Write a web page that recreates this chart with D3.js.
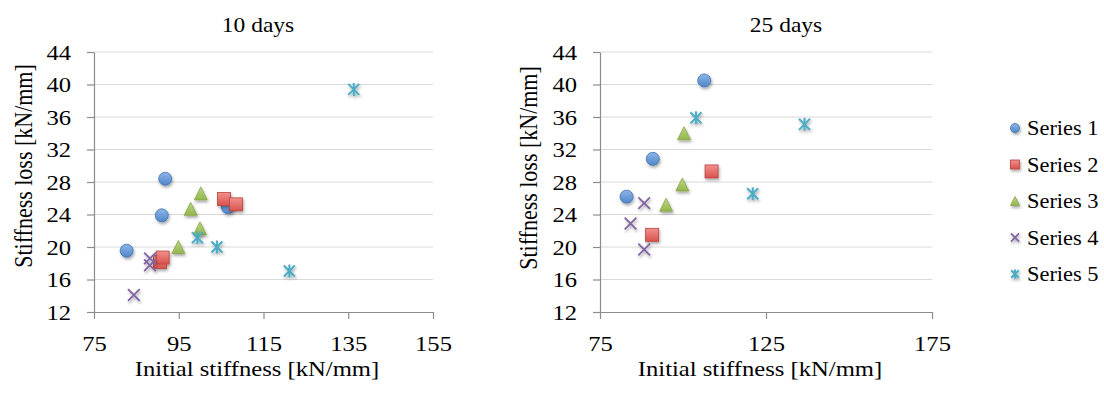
<!DOCTYPE html>
<html>
<head>
<meta charset="utf-8">
<script src="https://cdn.jsdelivr.net/npm/d3@7"></script>
<style>
  html, body { margin: 0; padding: 0; background: #fff; }
  svg { display: block; }
  text { font-family: "Liberation Serif", "Times New Roman", serif; fill: #000; }
</style>
</head>
<body>
<svg id="chart" width="1104" height="398"></svg>
<script>
// ---------- DATA ----------
const seriesNames = ["Series 1", "Series 2", "Series 3", "Series 4", "Series 5"];
const panelTitles = ["10 days", "25 days"];
const xAxisTitle = "Initial stiffness [kN/mm]";
const yAxisTitles = ["Stiffness loss [kN/mm]", "Stiffness loss  [kN/mm]"];
const yTicks = [12, 16, 20, 24, 28, 32, 36, 40, 44];
const xTicks10 = [75, 95, 115, 135, 155];
const xTicks25 = [75, 125, 175];

// 10 days: [initial stiffness, stiffness loss]
const s1_10 = [[91.8, 28.4], [91.0, 23.9], [82.7, 19.55], [106.6, 24.9]];
const s2_10 = [[105.7, 25.9], [108.5, 25.25], [90.6, 18.15], [91.2, 18.7]];
const s3_10 = [[100.2, 26.6], [97.8, 24.7], [100.0, 22.3], [94.9, 20.0]];
const s4_10 = [[88.2, 18.6], [88.2, 17.75], [84.4, 14.1]];
const s5_10 = [[136.3, 39.4], [99.4, 21.15], [104.0, 20.0], [121.1, 17.05]];

// 25 days
const s1_25 = [[106.4, 40.5], [90.9, 30.85], [83.0, 26.2]];
const s2_25 = [[108.6, 29.3], [90.7, 21.5]];
const s3_25 = [[100.3, 34.0], [99.8, 27.7], [94.9, 25.2]];
const s4_25 = [[88.3, 25.4], [84.2, 22.9], [88.3, 19.7]];
const s5_25 = [[103.9, 35.9], [136.6, 35.1], [121.0, 26.55]];

// ---------- STYLE ----------
const FONT = 22;
const SX = 1.12; // horizontal stretch of the original text
const svg = d3.select("#chart");
const defs = svg.append("defs");

const flt = defs.append("filter").attr("id", "shadow")
  .attr("x", "-50%").attr("y", "-50%").attr("width", "200%").attr("height", "200%");
flt.append("feDropShadow").attr("dx", 1).attr("dy", 2).attr("stdDeviation", 1.4)
  .attr("flood-color", "#000").attr("flood-opacity", 0.35);

function grad(id, c1, c2) {
  const g = defs.append("linearGradient").attr("id", id)
    .attr("x1", 0).attr("y1", 0).attr("x2", 0).attr("y2", 1);
  g.append("stop").attr("offset", "0%").attr("stop-color", c1);
  g.append("stop").attr("offset", "100%").attr("stop-color", c2);
}
grad("g1", "#8db6e8", "#4f86c9");
grad("g2", "#f2918d", "#d9524d");
grad("g3", "#bcd880", "#93b64f");

const markerStyles = [
  { type: "circle", fill: "url(#g1)", stroke: "#3f72b0" },
  { type: "square", fill: "url(#g2)", stroke: "#b8423e" },
  { type: "triangle", fill: "url(#g3)", stroke: "#86a545" },
  { type: "x", stroke: "#8064A2" },
  { type: "star", stroke: "#4BACC6" }
];

function drawMarker(g, type, st, s) {
  if (type === "circle") {
    g.append("circle").attr("r", s).attr("fill", st.fill).attr("stroke", st.stroke).attr("stroke-width", 0.8);
  } else if (type === "square") {
    g.append("rect").attr("x", -s).attr("y", -s).attr("width", 2 * s).attr("height", 2 * s)
      .attr("fill", st.fill).attr("stroke", st.stroke).attr("stroke-width", 0.8);
  } else if (type === "triangle") {
    g.append("path").attr("d", `M0,${-s}L${s},${s}L${-s},${s}Z`)
      .attr("fill", st.fill).attr("stroke", st.stroke).attr("stroke-width", 0.8);
  } else if (type === "x") {
    const k = s * 0.9;
    g.append("path").attr("d", `M${-k},${-k}L${k},${k}M${-k},${k}L${k},${-k}`)
      .attr("stroke", st.stroke).attr("stroke-width", 1.8).attr("fill", "none");
  } else if (type === "star") {
    const k = s * 0.85;
    g.append("path").attr("d", `M${-k},${-k}L${k},${k}M${-k},${k}L${k},${-k}M0,${-s}L0,${s}`)
      .attr("stroke", st.stroke).attr("stroke-width", 2).attr("fill", "none");
  }
}

function stretchedText(parent, x, y, str, size, anchor) {
  return parent.append("text")
    .attr("transform", `translate(${x},${y}) scale(${SX},1)`)
    .attr("text-anchor", anchor || "start").attr("font-size", size).text(str);
}

const panels = [
  { title: panelTitles[0], titleX: 258, titleY: 32, left: 94, right: 433, top: 52, bottom: 312,
    xDomain: [75, 155], xTicks: xTicks10, yTitle: yAxisTitles[0], yTitleX: 32, yTitleY: 166, xTitleX: 257,
    series: [s1_10, s2_10, s3_10, s4_10, s5_10] },
  { title: panelTitles[1], titleX: 786, titleY: 32, left: 600, right: 932, top: 52, bottom: 312,
    xDomain: [75, 175], xTicks: xTicks25, yTitle: yAxisTitles[1], yTitleX: 537, yTitleY: 168, xTitleX: 760,
    series: [s1_25, s2_25, s3_25, s4_25, s5_25] }
];

panels.forEach(p => {
  const x = d3.scaleLinear().domain(p.xDomain).range([p.left, p.right]);
  const y = d3.scaleLinear().domain([12, 44]).range([p.bottom, p.top]);

  svg.append("g").selectAll("line").data(yTicks.filter(v => v !== 12)).join("line")
    .attr("x1", p.left).attr("x2", p.right)
    .attr("y1", d => y(d)).attr("y2", d => y(d))
    .attr("stroke", "#d9d9d9").attr("stroke-width", 1.2);

  const ya = svg.append("g").attr("transform", `translate(${p.left},0)`)
    .call(d3.axisLeft(y).tickValues(yTicks).tickSize(7).tickSizeOuter(0).tickPadding(16));
  const xa = svg.append("g").attr("transform", `translate(0,${p.bottom})`)
    .call(d3.axisBottom(x).tickValues(p.xTicks).tickSize(7).tickSizeOuter(0).tickPadding(16));
  [ya, xa].forEach(a => {
    a.attr("font-family", null);
    a.select(".domain").attr("stroke", "#8c8c8c").attr("stroke-width", 1.2);
    a.selectAll(".tick line").attr("stroke", "#8c8c8c").attr("stroke-width", 1.2);
    a.selectAll(".tick text").attr("font-size", FONT).attr("fill", "#000")
      .each(function () {
        const t = d3.select(this);
        const tx = +t.attr("x") || 0;
        t.attr("x", tx / SX).attr("transform", `scale(${SX},1)`);
      });
  });

  stretchedText(svg, p.titleX, p.titleY, p.title, 21, "middle");
  stretchedText(svg, p.xTitleX, 376, xAxisTitle, FONT, "middle");
  svg.append("text")
    .attr("transform", `translate(${p.yTitleX},${p.yTitleY}) rotate(-90) scale(1,${SX})`)
    .attr("text-anchor", "middle").attr("font-size", FONT).text(p.yTitle);

  p.series.forEach((data, i) => {
    const st = markerStyles[i];
    const g = svg.append("g").attr("filter", "url(#shadow)");
    data.forEach(d => {
      const m = g.append("g").attr("transform", `translate(${x(d[0])},${y(d[1])})`);
      drawMarker(m, st.type, st, 6.5);
    });
  });
});

// legend
const legendY = d3.scalePoint().domain(seriesNames).range([128, 274]);
seriesNames.forEach((name, i) => {
  const g = svg.append("g").attr("transform", `translate(1015,${legendY(name)})`);
  const m = g.append("g").attr("filter", "url(#shadow)");
  drawMarker(m, markerStyles[i].type, markerStyles[i], 4.5);
  stretchedText(g, 12, 7, name, 20, "start");
});
</script>
</body>
</html>
